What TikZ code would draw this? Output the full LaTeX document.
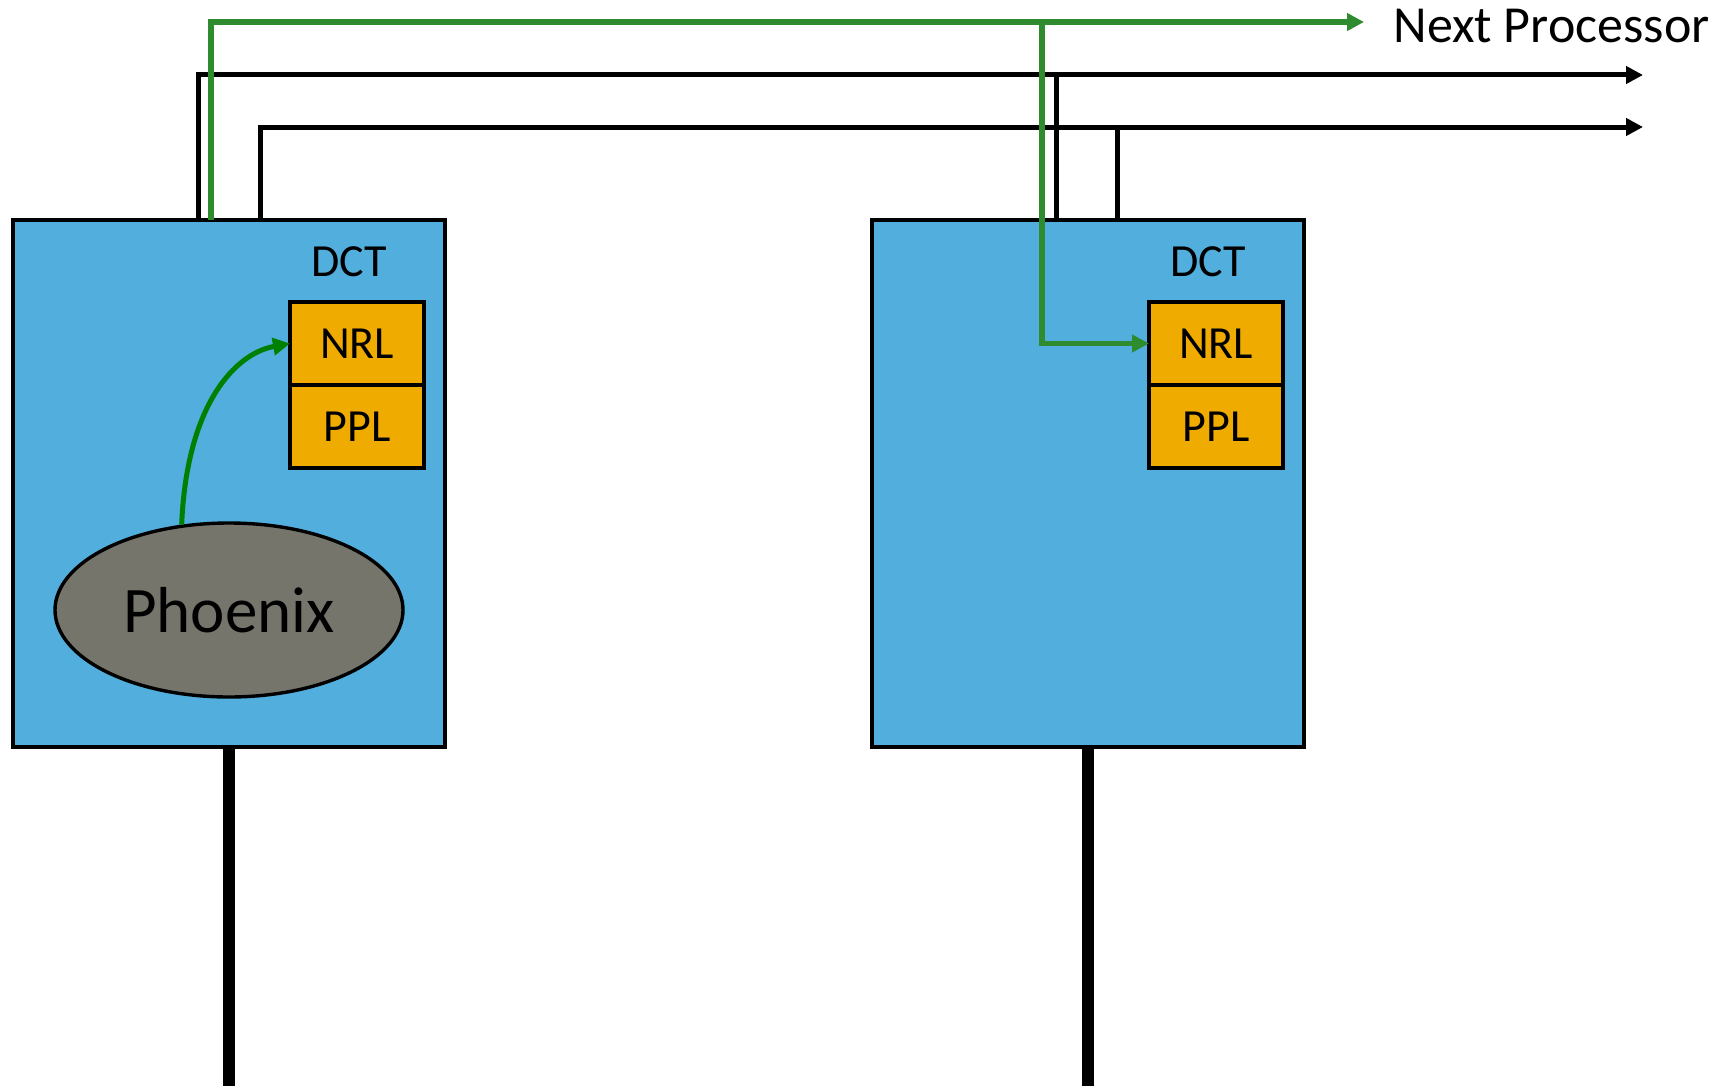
\documentclass[tikz,border=0pt]{standalone}
\usepackage{fontspec}
\setmainfont{Carlito}
\usetikzlibrary{arrows.meta,positioning,shapes.geometric}
\definecolor{cboard}{RGB}{82,174,220}
\definecolor{clayer}{RGB}{240,171,0}
\definecolor{cphoenix}{RGB}{118,117,108}
\definecolor{cbus}{RGB}{46,139,46}
\definecolor{ccall}{RGB}{0,128,0}
\tikzset{board/.style={x=0.5pt,y=-0.5pt,>={Triangle[length=8.5pt,width=8.5pt]}}}
\tikzset{proc/.style={draw,line width=2.2pt,fill=cboard,minimum width=216pt,minimum height=263.5pt},
         layer/.style={draw,line width=2.2pt,fill=clayer,minimum width=67pt,minimum height=41.5pt,
                       inner sep=0pt,outer sep=0pt,font=\fontsize{23}{26}\selectfont},
         tag/.style={font=\fontsize{23}{26}\selectfont},
         bus/.style={line width=2.5pt},
         sig/.style={cbus,line width=2.8pt},
         trunk/.style={line width=6.3pt}}

\begin{document}
\begin{tikzpicture}[board]
    \useasboundingbox (0,0) rectangle (1727,1086);
    % the two processors
    \node[proc] (procA) at (229,483.5) {};
    \node[proc] (procB) at (1088,483.5) {};
    \node[tag] (dctA) at (349,262) {DCT};
    \node[tag] (dctB) at (1208,262) {DCT};
    \node[layer] (nrlA) at (357,343.5) {NRL};
    \node[layer,below=0pt of nrlA] (pplA) {PPL};
    \node[layer] (nrlB) at (1216,343.5) {NRL};
    \node[layer,below=0pt of nrlB] (pplB) {PPL};
    \node[ellipse,draw,line width=1.7pt,fill=cphoenix,minimum width=174pt,minimum height=87pt,
          font=\fontsize{32.5}{36}\selectfont] (phoenix) at (229,610) {Phoenix};
    \node[anchor=west,inner xsep=14.5pt,inner ysep=0pt,text height=21pt,font=\fontsize{26}{30}\selectfont]
        (nextlbl) at (1364,22) {Next Processor};
    % taps on the box tops
    \coordinate (tapA1) at (198,220);
    \coordinate (tapA3) at (211,220);
    \coordinate (tapA2) at (260,220);
    \coordinate (tapB1) at (1056,220);
    \coordinate (tapB2) at (1117,220);
    \coordinate (gtapB) at (1042,22);
    \coordinate (outA) at (1643,75);
    \coordinate (outB) at (1643,127);
    \coordinate (endA) at (229,1086);
    \coordinate (endB) at (1088,1086);
    % buses
    \draw[bus,->] (tapA1) |- (outA);
    \draw[bus,->] (tapA2) |- (outB);
    \draw[bus] (tapB1) -- (tapB1 |- outA);
    \draw[bus] (tapB2) -- (tapB2 |- outB);
    \draw[trunk] (procA.south) -- (endA);
    \draw[trunk] (procB.south) -- (endB);
    % green path to the next processor
    \draw[sig,->] (tapA3) |- (nextlbl.west);
    \draw[sig,->] (gtapB) |- (nrlB.west);
    \draw[ccall,line width=2.5pt,->] (phoenix.119) .. controls +(5,-120) and +(-55,10) .. (nrlA.west);
\end{tikzpicture}
\end{document}
